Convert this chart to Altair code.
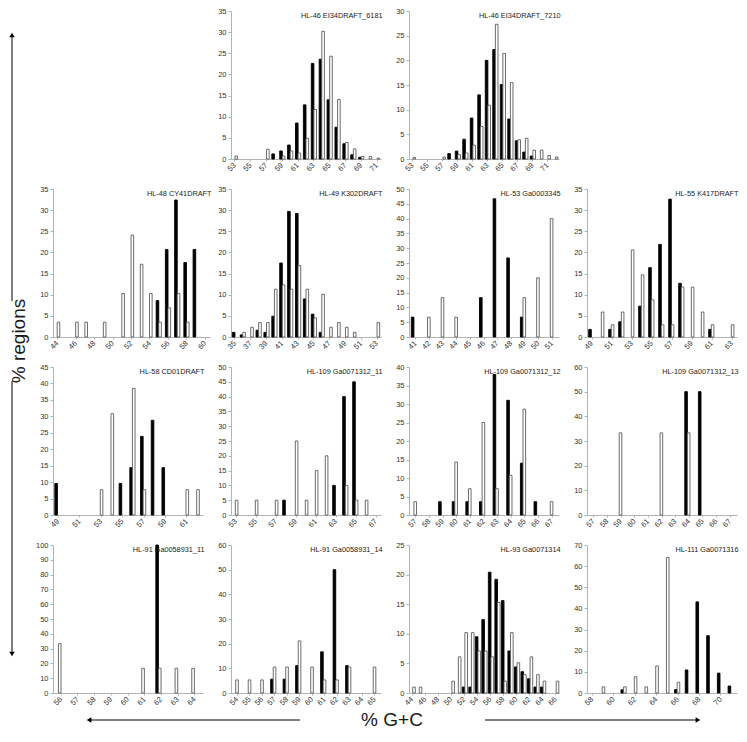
import altair as alt
import pandas as pd

FONT = "Liberation Sans"
W, H = 150, 148

# ---------------- data (one block per panel) ----------------
t1 = "HL-46 EI34DRAFT_6181"
gc1 = list(range(53, 72))
b1 = [0, 0, 0, 0, 0, 1.2, 1.9, 3.3, 8.5, 12.8, 22.6, 23.6, 14.0, 7.5, 3.6, 1.0, 0.4, 0, 0]
w1 = [0.7, 0, 0, 0, 2.3, 0, 0.7, 1.9, 1.4, 4.9, 11.7, 30.2, 24.3, 14.1, 3.9, 2.4, 0.6, 0.6, 0.2]
xl1 = [53, 55, 57, 59, 61, 63, 65, 67, 69, 71]
yl1 = [0, 5, 10, 15, 20, 25, 30, 35]

t2 = "HL-46 EI34DRAFT_7210"
gc2 = list(range(53, 73))
b2 = [0, 0, 0, 0, 0, 1.1, 1.6, 4.0, 8.3, 13.0, 20.0, 22.2, 15.1, 8.1, 3.7, 1.4, 0.6, 0, 0, 0]
w2 = [0.3, 0, 0, 0, 0.4, 0, 0.9, 1.2, 2.8, 6.6, 10.9, 27.3, 21.4, 15.5, 3.9, 4.2, 1.8, 1.8, 0.7, 0.4]
xl2 = [53, 55, 57, 59, 61, 63, 65, 67, 69, 71]
yl2 = [0, 5, 10, 15, 20, 25, 30]

t3 = "HL-48 CY41DRAFT"
gc3 = list(range(44, 61))
b3 = [0, 0, 0, 0, 0, 0, 0, 0, 0, 0, 0, 8.6, 20.7, 32.4, 17.6, 20.7, 0]
w3 = [3.5, 0, 3.5, 3.5, 0, 3.5, 0, 10.3, 24.1, 17.2, 10.3, 3.5, 6.9, 10.3, 3.5, 0, 0]
xl3 = [44, 46, 48, 50, 52, 54, 56, 58, 60]
yl3 = [0, 5, 10, 15, 20, 25, 30, 35]

t4 = "HL-49 K302DRAFT"
gc4 = list(range(35, 54))
b4 = [1.1, 0.5, 0, 1.6, 1.1, 4.9, 17.5, 29.7, 29.2, 9.0, 5.4, 1.1, 0, 0, 0, 0, 0, 0, 0]
w4 = [0, 1.1, 2.3, 3.4, 3.4, 11.3, 12.3, 11.3, 16.9, 11.3, 4.5, 10.1, 2.3, 3.4, 2.3, 1.1, 0, 0, 3.4]
xl4 = [35, 37, 39, 41, 43, 45, 47, 49, 51, 53]
yl4 = [0, 5, 10, 15, 20, 25, 30, 35]

t5 = "HL-53 Ga0003345"
gc5 = list(range(41, 52))
b5 = [6.7, 0, 0, 0, 0, 13.3, 46.7, 26.7, 6.7, 0, 0]
w5 = [0, 6.7, 13.3, 6.7, 0, 0, 0, 0, 13.3, 20.0, 40.0]
xl5 = [41, 42, 43, 44, 45, 46, 47, 48, 49, 50, 51]
yl5 = [0, 5, 10, 15, 20, 25, 30, 35, 40, 45, 50]

t6 = "HL-55 K417DRAFT"
gc6 = list(range(49, 64))
b6 = [1.8, 0, 1.8, 3.6, 0, 7.3, 16.4, 21.9, 32.6, 12.7, 0, 0, 1.8, 0, 0]
w6 = [0, 5.9, 2.9, 5.9, 20.6, 14.7, 8.8, 2.9, 2.9, 11.8, 11.8, 5.9, 2.9, 0, 2.9]
xl6 = [49, 51, 53, 55, 57, 59, 61, 63]
yl6 = [0, 5, 10, 15, 20, 25, 30, 35]

t7 = "HL-58 CD01DRAFT"
gc7 = list(range(49, 63))
b7 = [9.6, 0, 0, 0, 0, 0, 9.6, 14.4, 23.9, 28.8, 14.4, 0, 0, 0]
w7 = [0, 0, 0, 0, 7.7, 30.8, 0, 38.5, 7.7, 0, 0, 0, 7.7, 7.7]
xl7 = [49, 51, 53, 55, 57, 59, 61]
yl7 = [0, 5, 10, 15, 20, 25, 30, 35, 40, 45]

t8 = "HL-109 Ga0071312_11"
gc8 = list(range(53, 68))
b8 = [0, 0, 0, 0, 0, 5, 0, 0, 0, 0, 10, 40, 45, 0, 0]
w8 = [5, 0, 5, 0, 5, 0, 25, 5, 15, 20, 0, 10, 5, 5, 0]
xl8 = [53, 55, 57, 59, 61, 63, 65, 67]
yl8 = [0, 5, 10, 15, 20, 25, 30, 35, 40, 45, 50]

t9 = "HL-109 Ga0071312_12"
gc9 = list(range(57, 68))
b9 = [0, 0, 3.6, 3.6, 3.6, 3.6, 38.0, 31.0, 14.0, 3.6, 0]
w9 = [3.6, 0, 0, 14.3, 7.1, 25.0, 7.1, 10.7, 28.6, 0, 3.6]
xl9 = [57, 58, 59, 60, 61, 62, 63, 64, 65, 66, 67]
yl9 = [0, 5, 10, 15, 20, 25, 30, 35, 40]

t10 = "HL-109 Ga0071312_13"
gc10 = list(range(57, 68))
b10 = [0, 0, 0, 0, 0, 0, 0, 50, 50, 0, 0]
w10 = [0, 0, 33.3, 0, 0, 33.3, 0, 33.3, 0, 0, 0]
xl10 = [57, 58, 59, 60, 61, 62, 63, 64, 65, 66, 67]
yl10 = [0, 10, 20, 30, 40, 50, 60]

t11 = "HL-91 Ga0058931_11"
gc11 = list(range(56, 65))
b11 = [0, 0, 0, 0, 0, 0, 100, 0, 0]
w11 = [33.3, 0, 0, 0, 0, 16.7, 16.7, 16.7, 16.7]
xl11 = [56, 57, 58, 59, 60, 61, 62, 63, 64]
yl11 = [0, 10, 20, 30, 40, 50, 60, 70, 80, 90, 100]

t12 = "HL-91 Ga0058931_14"
gc12 = list(range(54, 66))
b12 = [0, 0, 0, 5.6, 5.6, 11.1, 0, 16.7, 50.0, 11.1, 0, 0]
w12 = [5.3, 5.3, 5.3, 10.5, 10.5, 21.1, 10.5, 5.3, 5.3, 10.5, 0, 10.5]
xl12 = [54, 55, 56, 57, 58, 59, 60, 61, 62, 63, 64, 65]
yl12 = [0, 10, 20, 30, 40, 50, 60]

t13 = "HL-93 Ga0071314"
gc13 = list(range(44, 67))
b13 = [0, 0, 0, 0, 0, 0, 0, 0, 1.0, 1.0, 9.5, 12.4, 20.4, 19.2, 15.6, 7.1, 4.4, 3.6, 2.4, 1.0, 1.0, 0, 0]
w13 = [1.0, 1.0, 0, 0, 0, 0, 2.0, 6.1, 10.2, 10.2, 7.1, 7.1, 6.1, 15.3, 2.0, 10.2, 5.1, 3.1, 6.1, 3.1, 2.0, 0, 2.0]
xl13 = [44, 46, 48, 50, 52, 54, 56, 58, 60, 62, 64, 66]
yl13 = [0, 5, 10, 15, 20, 25]

t14 = "HL-111 Ga0071316"
gc14 = list(range(58, 72))
b14 = [0, 0, 0, 1.5, 0, 0, 0, 0, 1.6, 10.9, 43.1, 27.1, 9.4, 3.3]
w14 = [0, 2.9, 0, 2.9, 7.7, 2.9, 12.8, 64.1, 5.1, 0, 0, 0, 0, 0]
xl14 = [58, 60, 62, 64, 66, 68, 70]
yl14 = [0, 10, 20, 30, 40, 50, 60, 70]

SERIES = ["b", "w"]


def panel(title, cats, blk, wht, xlabels, ylabels, span=W):
    rows = []
    for c, b, w in zip(cats, blk, wht):
        if b:
            rows.append({"gc": c, "s": "b", "v": b})
        if w:
            rows.append({"gc": c, "s": "w", "v": w})
    df = pd.DataFrame(rows)
    bars = alt.Chart(df).mark_bar(strokeWidth=0.9).encode(
        x=alt.X("gc:O", title=None,
                scale=alt.Scale(domain=cats, range=[0, span], paddingInner=0.34, paddingOuter=0.17),
                axis=alt.Axis(values=xlabels, labelAngle=315, labelAlign="right",
                              labelBaseline="middle", labelPadding=3, tickSize=2,
                              labelOverlap=False)),
        xOffset=alt.XOffset("s:N", scale=alt.Scale(domain=SERIES, paddingInner=0, paddingOuter=0)),
        y=alt.Y("v:Q", title=None,
                scale=alt.Scale(domain=[ylabels[0], ylabels[-1]], nice=False),
                axis=alt.Axis(values=ylabels, tickSize=3, labelPadding=2)),
        fill=alt.Fill("s:N", scale=alt.Scale(domain=SERIES, range=["#000000", "#ffffff"]), legend=None),
        stroke=alt.Stroke("s:N", scale=alt.Scale(domain=SERIES, range=["#000000", "#5c5c5c"]), legend=None),
    )
    ttl = alt.Chart(pd.DataFrame({"t": [title]})).mark_text(
        align="right", baseline="top", fontSize=7.3, font=FONT, color="#1a1a1a"
    ).encode(x=alt.value(span + 1.5), y=alt.value(1), text="t:N")
    return alt.layer(bars, ttl).properties(width=W, height=H)


one = pd.DataFrame({"a": [0]})


def blank():
    return alt.Chart(one).mark_point(opacity=0).encode(
        x=alt.X("a:Q", axis=None), y=alt.Y("a:Q", axis=None)
    ).properties(width=W, height=H)


def vrule(x, y1, y2, op=1):
    return alt.Chart(one).mark_rule(color="#000000", strokeWidth=1, opacity=op).encode(
        x=alt.value(x), y=alt.value(y1), y2=alt.value(y2))


def hrule(y, x1, x2):
    return alt.Chart(one).mark_rule(color="#000000", strokeWidth=1).encode(
        y=alt.value(y), x=alt.value(x1), x2=alt.value(x2))


def head(x, y, shape):
    return alt.Chart(one).mark_point(shape=shape, filled=True, color="#000000", size=30, opacity=1).encode(
        x=alt.value(x), y=alt.value(y))


def label(x, y, txt, angle=0):
    return alt.Chart(pd.DataFrame({"t": [txt]})).mark_text(
        fontSize=19, font=FONT, color="#1a1a1a", angle=angle, align="center", baseline="middle"
    ).encode(x=alt.value(x), y=alt.value(y), text="t:N")


# decorations drawn relative to the first (empty) cell of the grid
GY = 709
deco = alt.layer(
    blank(),
    vrule(-45, 100, 200, op=0),
    vrule(-41, 290, 24), head(-41, 24, "triangle-up"),
    vrule(-41, 370, 643), head(-41, 643, "triangle-down"),
    label(-34, 330, "% regions", angle=270),
    label(339, GY, "% G+C"),
    hrule(GY, 247, 36), head(36, GY, "triangle-left"),
    hrule(GY, 432, 645), head(645, GY, "triangle-right"),
).properties(width=W, height=H)

cells = [
    deco,
    panel(t1, gc1, b1, w1, xl1, yl1),
    panel(t2, gc2, b2, w2, xl2, yl2),
    blank(),
    panel(t3, gc3, b3, w3, xl3, yl3, span=157),
    panel(t4, gc4, b4, w4, xl4, yl4),
    panel(t5, gc5, b5, w5, xl5, yl5),
    panel(t6, gc6, b6, w6, xl6, yl6),
    panel(t7, gc7, b7, w7, xl7, yl7),
    panel(t8, gc8, b8, w8, xl8, yl8),
    panel(t9, gc9, b9, w9, xl9, yl9),
    panel(t10, gc10, b10, w10, xl10, yl10),
    panel(t11, gc11, b11, w11, xl11, yl11),
    panel(t12, gc12, b12, w12, xl12, yl12),
    panel(t13, gc13, b13, w13, xl13, yl13),
    panel(t14, gc14, b14, w14, xl14, yl14),
]

chart = alt.concat(
    *cells, columns=4, spacing={"row": 30, "column": 28}, bounds="flush"
).properties(
    padding={"left": 0, "top": -1, "right": 0, "bottom": 0}
).configure_view(stroke=None).configure_axis(
    labelFont=FONT, labelFontSize=7.5, labelColor="#333333",
    domainColor="#b3b3b3", tickColor="#b3b3b3", grid=False,
)

chart.save("out.html", embed_options={"renderer": "svg", "actions": False})
